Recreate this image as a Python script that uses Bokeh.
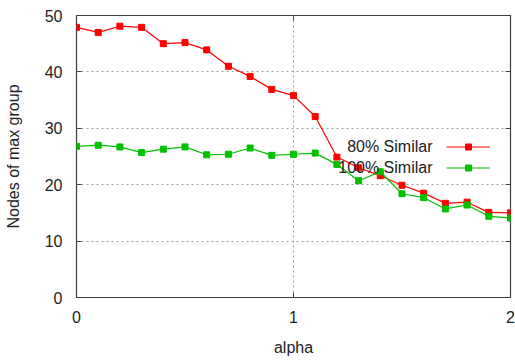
from bokeh.plotting import figure
from bokeh.models import (Range1d, FixedTicker, LinearAxis, Legend, LegendItem, Label)
from bokeh.embed import file_html
from bokeh.resources import INLINE

alpha = [0.0, 0.1, 0.2, 0.3, 0.4, 0.5, 0.6, 0.7, 0.8, 0.9, 1.0,
         1.1, 1.2, 1.3, 1.4, 1.5, 1.6, 1.7, 1.8, 1.9, 2.0]
sim80 = [47.9, 47.0, 48.1, 47.9, 45.0, 45.2, 43.9, 41.0, 39.2, 36.9, 35.8,
         32.1, 24.9, 23.0, 21.6, 19.9, 18.5, 16.7, 16.9, 15.1, 15.0]
sim100 = [26.8, 27.0, 26.7, 25.7, 26.3, 26.7, 25.3, 25.4, 26.5, 25.2, 25.4,
          25.6, 23.6, 20.7, 22.3, 18.4, 17.7, 15.7, 16.4, 14.4, 14.1]
x_ticks = [0, 1, 2]
y_ticks = [0, 10, 20, 30, 40, 50]
series_names = ["80% Similar", "100% Similar"]
x_label = "alpha"
y_label = "Nodes of max group"

FONT = "Liberation Sans"
RED = "#ff0000"
GREEN = "#00c000"

p = figure(width=515, height=360, output_backend="svg", toolbar_location=None,
           x_range=Range1d(0, 2), y_range=Range1d(0, 50),
           min_border_left=76, min_border_right=5, min_border_top=15,
           min_border_bottom=63, x_axis_label=x_label, y_axis_label=y_label)
p.background_fill_color = "white"
p.border_fill_color = "white"
p.outline_line_color = "#404040"
p.outline_line_width = 1.2

for ax, ticks in ((p.xaxis[0], x_ticks), (p.yaxis[0], y_ticks)):
    ax.ticker = FixedTicker(ticks=ticks)
    ax.axis_line_color = None
    ax.major_tick_in = 5
    ax.major_tick_out = 0
    ax.major_tick_line_color = "#404040"
    ax.minor_tick_line_color = None
    ax.major_label_text_font = FONT
    ax.major_label_text_font_size = "16px"
    ax.major_label_text_color = "#222222"
    ax.axis_label_text_font = FONT
    ax.axis_label_text_font_size = "16px"
    ax.axis_label_text_font_style = "normal"
    ax.axis_label_text_color = "#222222"

p.xaxis[0].major_label_standoff = 13
p.xaxis[0].axis_label_standoff = 13
p.yaxis[0].major_label_standoff = 14
p.yaxis[0].axis_label_standoff = 20

# mirrored tick marks on right and top (no labels)
for loc, ticks in (("right", y_ticks), ("above", x_ticks)):
    ax = LinearAxis(ticker=FixedTicker(ticks=ticks))
    ax.axis_line_color = None
    ax.major_tick_in = 5
    ax.major_tick_out = 0
    ax.major_tick_line_color = "#404040"
    ax.minor_tick_line_color = None
    ax.major_label_text_font_size = "0px"
    ax.major_label_text_color = None
    ax.major_label_standoff = 0
    ax.major_label_overrides = {t: "" for t in ticks}
    p.add_layout(ax, loc)

p.xgrid.ticker = FixedTicker(ticks=x_ticks)
p.ygrid.ticker = FixedTicker(ticks=y_ticks)
for g in (p.xgrid[0], p.ygrid[0]):
    g.grid_line_color = "#a0a0a0"
    g.grid_line_dash = "2 3"
    g.grid_line_width = 1

l1 = p.line(alpha, sim80, line_color=RED, line_width=1.2)
s1 = p.scatter(alpha, sim80, marker="square", size=6, fill_color=RED, line_color=RED)
l2 = p.line(alpha, sim100, line_color=GREEN, line_width=1.2)
s2 = p.scatter(alpha, sim100, marker="square", size=6, fill_color=GREEN, line_color=GREEN)

legend = Legend(items=[LegendItem(label=" ", renderers=[l1, s1]),
                       LegendItem(label=" ", renderers=[l2, s2])],
                location=(370, 119.5), orientation="vertical",
                glyph_width=44, glyph_height=15, label_height=21, label_width=0,
                label_standoff=0, spacing=0, padding=0, margin=0,
                label_text_font_size="1px", label_text_color=None,
                border_line_color=None, background_fill_alpha=0)
p.add_layout(legend, "center")

for name, ypos in zip(series_names, [151, 130]):
    p.add_layout(Label(x=356, y=ypos, x_units="screen", y_units="screen",
                       text=name, text_align="right", text_baseline="middle",
                       text_font=FONT, text_font_size="16px", text_color="#222222"))

open("out.html", "w").write(file_html(p, INLINE))
